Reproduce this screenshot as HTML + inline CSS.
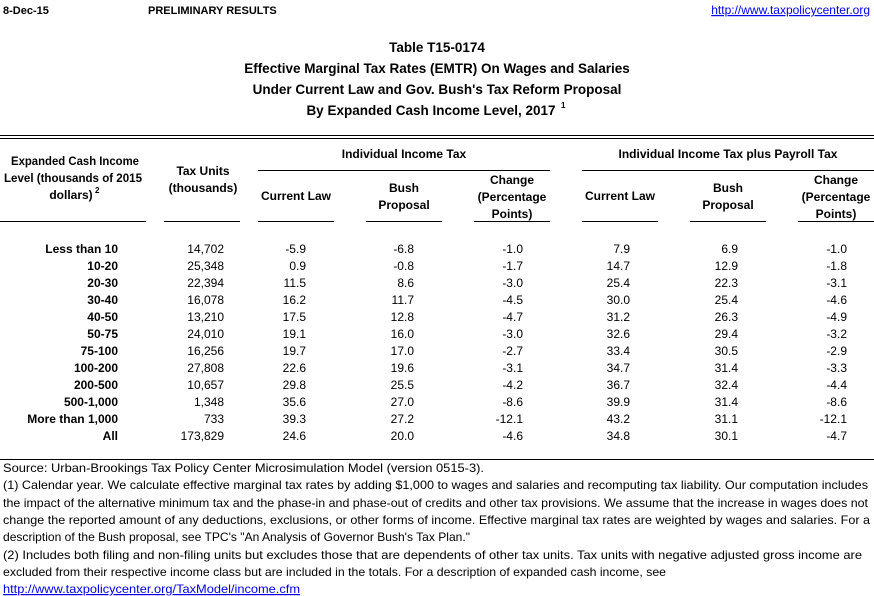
<!DOCTYPE html>
<html><head><meta charset="utf-8"><style>
html,body{margin:0;padding:0;background:#fff;}
svg{display:block;}
text{font-family:"Liberation Sans",Arial,sans-serif;font-size:12px;fill:#000;}
.b{font-weight:bold;}
.m{text-anchor:middle;}
.e{text-anchor:end;}
.t{font-size:13.5px;font-weight:bold;text-anchor:middle;}
.l{fill:#0000ee;}
.sup{font-size:8px;font-weight:bold;}
</style></head><body>
<svg width="874" height="596" viewBox="0 0 874 596" xmlns="http://www.w3.org/2000/svg">
<text x="3" y="14" class="b" style="font-size:11px">8-Dec-15</text>
<text x="148" y="14" class="b" style="font-size:11px">PRELIMINARY RESULTS</text>
<text x="870" y="14" class="e l" text-decoration="underline">http://www.taxpolicycenter.org</text>

<text x="437" y="52" class="t">Table T15-0174</text>
<text x="437" y="73" class="t">Effective Marginal Tax Rates (EMTR) On Wages and Salaries</text>
<text x="437" y="94" class="t">Under Current Law and Gov. Bush's Tax Reform Proposal</text>
<text x="431" y="115" class="t">By Expanded Cash Income Level, 2017</text>
<text x="561" y="108" class="sup">1</text>

<line x1="0" y1="135.5" x2="874" y2="135.5" stroke="#000"/>
<line x1="0" y1="138.5" x2="874" y2="138.5" stroke="#000"/>

<g>
<text x="75" y="165" class="m b" textLength="128" lengthAdjust="spacingAndGlyphs">Expanded Cash Income</text>
<text x="73" y="182" class="m b" textLength="138" lengthAdjust="spacingAndGlyphs">Level (thousands of 2015</text>
<text x="71" y="199" class="m b">dollars)</text>
<text x="95" y="193" class="sup">2</text>
<text x="203" y="175" class="m b">Tax Units</text>
<text x="203" y="192" class="m b">(thousands)</text>
<text x="404" y="158" class="m b">Individual Income Tax</text>
<text x="728" y="158" class="m b">Individual Income Tax plus Payroll Tax</text>
<text x="296" y="200" class="m b">Current Law</text>
<text x="404" y="192" class="m b">Bush</text>
<text x="404" y="209" class="m b">Proposal</text>
<text x="512" y="184" class="m b">Change</text>
<text x="512" y="201" class="m b">(Percentage</text>
<text x="512" y="218" class="m b">Points)</text>
<text x="620" y="200" class="m b">Current Law</text>
<text x="728" y="192" class="m b">Bush</text>
<text x="728" y="209" class="m b">Proposal</text>
<text x="836" y="184" class="m b">Change</text>
<text x="836" y="201" class="m b">(Percentage</text>
<text x="836" y="218" class="m b">Points)</text>
</g>
<g stroke="#000" stroke-width="1">
<line x1="258" y1="170.5" x2="550" y2="170.5"/>
<line x1="582" y1="170.5" x2="874" y2="170.5"/>
<line x1="0" y1="221.5" x2="146" y2="221.5"/>
<line x1="164" y1="221.5" x2="240" y2="221.5"/>
<line x1="258" y1="221.5" x2="334" y2="221.5"/>
<line x1="366" y1="221.5" x2="442" y2="221.5"/>
<line x1="474" y1="221.5" x2="550" y2="221.5"/>
<line x1="582" y1="221.5" x2="658" y2="221.5"/>
<line x1="690" y1="221.5" x2="766" y2="221.5"/>
<line x1="798" y1="221.5" x2="874" y2="221.5"/>
<line x1="0" y1="459.5" x2="874" y2="459.5"/>
</g>

<g id="rows">
<g transform="translate(0,253)">
<text x="118" class="e b">Less than 10</text><text x="224" class="e">14,702</text><text x="306" class="e">-5.9</text><text x="414" class="e">-6.8</text><text x="523" class="e">-1.0</text><text x="630" class="e">7.9</text><text x="738" class="e">6.9</text><text x="847" class="e">-1.0</text></g>
<g transform="translate(0,270)">
<text x="118" class="e b">10-20</text><text x="224" class="e">25,348</text><text x="306" class="e">0.9</text><text x="414" class="e">-0.8</text><text x="523" class="e">-1.7</text><text x="630" class="e">14.7</text><text x="738" class="e">12.9</text><text x="847" class="e">-1.8</text></g>
<g transform="translate(0,287)">
<text x="118" class="e b">20-30</text><text x="224" class="e">22,394</text><text x="306" class="e">11.5</text><text x="414" class="e">8.6</text><text x="523" class="e">-3.0</text><text x="630" class="e">25.4</text><text x="738" class="e">22.3</text><text x="847" class="e">-3.1</text></g>
<g transform="translate(0,304)">
<text x="118" class="e b">30-40</text><text x="224" class="e">16,078</text><text x="306" class="e">16.2</text><text x="414" class="e">11.7</text><text x="523" class="e">-4.5</text><text x="630" class="e">30.0</text><text x="738" class="e">25.4</text><text x="847" class="e">-4.6</text></g>
<g transform="translate(0,321)">
<text x="118" class="e b">40-50</text><text x="224" class="e">13,210</text><text x="306" class="e">17.5</text><text x="414" class="e">12.8</text><text x="523" class="e">-4.7</text><text x="630" class="e">31.2</text><text x="738" class="e">26.3</text><text x="847" class="e">-4.9</text></g>
<g transform="translate(0,338)">
<text x="118" class="e b">50-75</text><text x="224" class="e">24,010</text><text x="306" class="e">19.1</text><text x="414" class="e">16.0</text><text x="523" class="e">-3.0</text><text x="630" class="e">32.6</text><text x="738" class="e">29.4</text><text x="847" class="e">-3.2</text></g>
<g transform="translate(0,355)">
<text x="118" class="e b">75-100</text><text x="224" class="e">16,256</text><text x="306" class="e">19.7</text><text x="414" class="e">17.0</text><text x="523" class="e">-2.7</text><text x="630" class="e">33.4</text><text x="738" class="e">30.5</text><text x="847" class="e">-2.9</text></g>
<g transform="translate(0,372)">
<text x="118" class="e b">100-200</text><text x="224" class="e">27,808</text><text x="306" class="e">22.6</text><text x="414" class="e">19.6</text><text x="523" class="e">-3.1</text><text x="630" class="e">34.7</text><text x="738" class="e">31.4</text><text x="847" class="e">-3.3</text></g>
<g transform="translate(0,389)">
<text x="118" class="e b">200-500</text><text x="224" class="e">10,657</text><text x="306" class="e">29.8</text><text x="414" class="e">25.5</text><text x="523" class="e">-4.2</text><text x="630" class="e">36.7</text><text x="738" class="e">32.4</text><text x="847" class="e">-4.4</text></g>
<g transform="translate(0,406)">
<text x="118" class="e b">500-1,000</text><text x="224" class="e">1,348</text><text x="306" class="e">35.6</text><text x="414" class="e">27.0</text><text x="523" class="e">-8.6</text><text x="630" class="e">39.9</text><text x="738" class="e">31.4</text><text x="847" class="e">-8.6</text></g>
<g transform="translate(0,423)">
<text x="118" class="e b">More than 1,000</text><text x="224" class="e">733</text><text x="306" class="e">39.3</text><text x="414" class="e">27.2</text><text x="523" class="e">-12.1</text><text x="630" class="e">43.2</text><text x="738" class="e">31.1</text><text x="847" class="e">-12.1</text></g>
<g transform="translate(0,440)">
<text x="118" class="e b">All</text><text x="224" class="e">173,829</text><text x="306" class="e">24.6</text><text x="414" class="e">20.0</text><text x="523" class="e">-4.6</text><text x="630" class="e">34.8</text><text x="738" class="e">30.1</text><text x="847" class="e">-4.7</text></g>
</g>

<text x="3" y="472" textLength="481" lengthAdjust="spacingAndGlyphs">Source: Urban-Brookings Tax Policy Center Microsimulation Model (version 0515-3).</text>
<text x="3" y="489" textLength="865" lengthAdjust="spacingAndGlyphs">(1) Calendar year. We calculate effective marginal tax rates by adding $1,000 to wages and salaries and recomputing tax liability. Our computation includes</text>
<text x="3" y="507" textLength="865" lengthAdjust="spacingAndGlyphs">the impact of the alternative minimum tax and the phase-in and phase-out of credits and other tax provisions. We assume that the increase in wages does not</text>
<text x="3" y="524" textLength="867" lengthAdjust="spacingAndGlyphs">change the reported amount of any deductions, exclusions, or other forms of income. Effective marginal tax rates are weighted by wages and salaries. For a</text>
<text x="3" y="541" textLength="467" lengthAdjust="spacingAndGlyphs">description of the Bush proposal, see TPC's "An Analysis of Governor Bush's Tax Plan."</text>
<text x="3" y="559" textLength="859" lengthAdjust="spacingAndGlyphs">(2) Includes both filing and non-filing units but excludes those that are dependents of other tax units. Tax units with negative adjusted gross income are</text>
<text x="3" y="576" textLength="663" lengthAdjust="spacingAndGlyphs">excluded from their respective income class but are included in the totals. For a description of expanded cash income, see</text>
<text x="3" y="593" class="l" text-decoration="underline" textLength="297" lengthAdjust="spacingAndGlyphs">http://www.taxpolicycenter.org/TaxModel/income.cfm</text>
</svg>
</body></html>
